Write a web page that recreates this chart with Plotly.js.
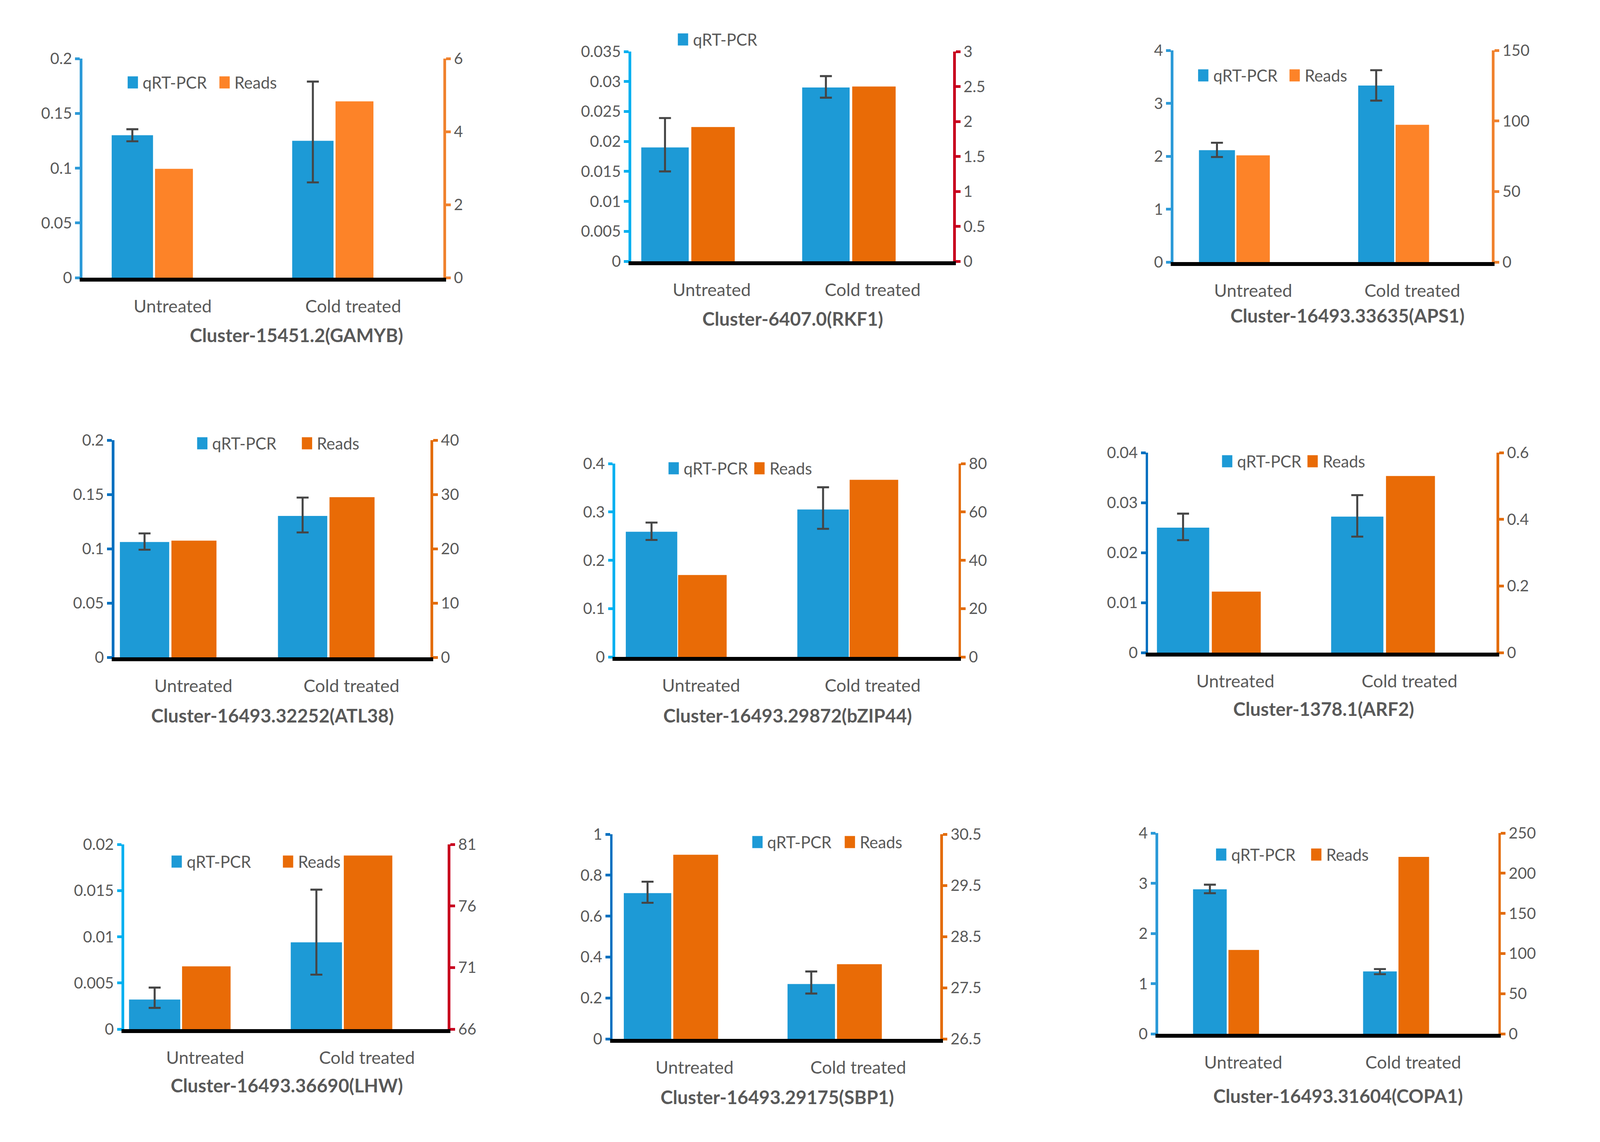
<!DOCTYPE html>
<html>
<head>
<meta charset="utf-8">
<script src="https://cdn.plot.ly/plotly-3.0.1.min.js"></script>
<style>
html, body { margin: 0; padding: 0; background: #ffffff; overflow: hidden; }
#chart { position: absolute; left: 0; top: 0; }
</style>
</head>
<body>
<div id="chart"></div>
<script>
// ---------------- DATA ----------------
const categories = ['Untreated', 'Cold treated'];
const seriesNames = ['qRT-PCR', 'Reads'];
const panelTitles = [
  'Cluster-15451.2(GAMYB)', 'Cluster-6407.0(RKF1)', 'Cluster-16493.33635(APS1)',
  'Cluster-16493.32252(ATL38)', 'Cluster-16493.29872(bZIP44)', 'Cluster-1378.1(ARF2)',
  'Cluster-16493.36690(LHW)', 'Cluster-16493.29175(SBP1)', 'Cluster-16493.31604(COPA1)'
];

// GAMYB
const qpcrGAMYB = [0.130, 0.125];
const qpcrErrUpGAMYB = [0.0055, 0.054];
const qpcrErrDownGAMYB = [0.0055, 0.038];
const readsGAMYB = [2.98, 4.83];
const leftTicksGAMYB = ['0', '0.05', '0.1', '0.15', '0.2'];
const rightTicksGAMYB = ['0', '2', '4', '6'];

// RKF1
const qpcrRKF1 = [0.0190, 0.0290];
const qpcrErrUpRKF1 = [0.0049, 0.0019];
const qpcrErrDownRKF1 = [0.0040, 0.0017];
const readsRKF1 = [1.92, 2.50];
const leftTicksRKF1 = ['0', '0.005', '0.01', '0.015', '0.02', '0.025', '0.03', '0.035'];
const rightTicksRKF1 = ['0', '0.5', '1', '1.5', '2', '2.5', '3'];

// APS1
const qpcrAPS1 = [2.115, 3.336];
const qpcrErrUpAPS1 = [0.14, 0.29];
const qpcrErrDownAPS1 = [0.13, 0.285];
const readsAPS1 = [75.6, 97.3];
const leftTicksAPS1 = ['0', '1', '2', '3', '4'];
const rightTicksAPS1 = ['0', '50', '100', '150'];

// ATL38
const qpcrATL38 = [0.1062, 0.1302];
const qpcrErrUpATL38 = [0.0079, 0.0169];
const qpcrErrDownATL38 = [0.0071, 0.0152];
const readsATL38 = [21.5, 29.5];
const leftTicksATL38 = ['0', '0.05', '0.1', '0.15', '0.2'];
const rightTicksATL38 = ['0', '10', '20', '30', '40'];

// bZIP44
const qpcrBZIP44 = [0.259, 0.305];
const qpcrErrUpBZIP44 = [0.019, 0.046];
const qpcrErrDownBZIP44 = [0.017, 0.040];
const readsBZIP44 = [33.9, 73.3];
const leftTicksBZIP44 = ['0', '0.1', '0.2', '0.3', '0.4'];
const rightTicksBZIP44 = ['0', '20', '40', '60', '80'];

// ARF2
const qpcrARF2 = [0.0250, 0.0272];
const qpcrErrUpARF2 = [0.0028, 0.0043];
const qpcrErrDownARF2 = [0.0025, 0.0040];
const readsARF2 = [0.183, 0.530];
const leftTicksARF2 = ['0', '0.01', '0.02', '0.03', '0.04'];
const rightTicksARF2 = ['0', '0.2', '0.4', '0.6'];

// LHW
const qpcrLHW = [0.0032, 0.0094];
const qpcrErrUpLHW = [0.0013, 0.0057];
const qpcrErrDownLHW = [0.0009, 0.0035];
const readsLHW = [71.1, 80.1];
const leftTicksLHW = ['0', '0.005', '0.01', '0.015', '0.02'];
const rightTicksLHW = ['66', '71', '76', '81'];

// SBP1
const qpcrSBP1 = [0.7125, 0.268];
const qpcrErrUpSBP1 = [0.0555, 0.0615];
const qpcrErrDownSBP1 = [0.0475, 0.0464];
const readsSBP1 = [30.1, 27.96];
const leftTicksSBP1 = ['0', '0.2', '0.4', '0.6', '0.8', '1'];
const rightTicksSBP1 = ['26.5', '27.5', '28.5', '29.5', '30.5'];

// COPA1
const qpcrCOPA1 = [2.88, 1.244];
const qpcrErrUpCOPA1 = [0.092, 0.046];
const qpcrErrDownCOPA1 = [0.078, 0.055];
const readsCOPA1 = [104.5, 220.3];
const leftTicksCOPA1 = ['0', '1', '2', '3', '4'];
const rightTicksCOPA1 = ['0', '50', '100', '150', '200', '250'];

// ---------------- STYLE / LAYOUT ----------------
const W = 4813, H = 2924;
const vw = window.innerWidth || W, vh = window.innerHeight || H;
const sx = vw / W, sy = vh / H;
const sf = sx;
const FONT = 'Lato, "Open Sans", sans-serif';
const TEXT = '#595959';
const BLUE = '#1D9AD6';
const ORANGE_LIGHT = '#FD8328';
const ORANGE_DARK = '#E96B06';
const CYAN = '#00B0F0', DEEPBLUE = '#0070C0', MIDBLUE = '#2C9AD8';
const RED = '#C8001E', AXORANGE = '#E36C09', AXORANGE_LIGHT = '#F0822E';

// box: [left axis x, right axis x, top y, zero y] in reference pixels
// lg: [qRT-PCR marker left, Reads marker left (or null), legend centre y]
const panels = [
  {qpcr: qpcrGAMYB, up: qpcrErrUpGAMYB, dn: qpcrErrDownGAMYB, reads: readsGAMYB, lt: leftTicksGAMYB, rt: rightTicksGAMYB,
   box: [248, 1334, 150, 711], lc: MIDBLUE, rc: AXORANGE_LIGHT, oc: ORANGE_LIGHT,
   bo: -0.338, bw: 0.229, oo: -0.098, ow: 0.21, lg: [384, 660, 211], tp: [892, 858]},
  {qpcr: qpcrRKF1, up: qpcrErrUpRKF1, dn: qpcrErrDownRKF1, reads: readsRKF1, lt: leftTicksRKF1, rt: rightTicksRKF1,
   box: [1899, 2867, 132, 669], lc: CYAN, rc: RED, oc: ORANGE_DARK,
   bo: -0.438, bw: 0.295, oo: -0.127, ow: 0.27, lg: [2039, null, 101], tp: [2385, 815]},
  {qpcr: qpcrAPS1, up: qpcrErrUpAPS1, dn: qpcrErrDownAPS1, reads: readsAPS1, lt: leftTicksAPS1, rt: rightTicksAPS1,
   box: [3530, 4488, 129, 671], lc: MIDBLUE, rc: AXORANGE_LIGHT, oc: ORANGE_LIGHT,
   bo: -0.34, bw: 0.226, oo: -0.105, ow: 0.21, lg: [3604, 3879, 193], tp: [4053, 807]},
  {qpcr: qpcrATL38, up: qpcrErrUpATL38, dn: qpcrErrDownATL38, reads: readsATL38, lt: leftTicksATL38, rt: rightTicksATL38,
   box: [344, 1295, 1127, 1683], lc: DEEPBLUE, rc: AXORANGE, oc: ORANGE_DARK,
   bo: -0.465, bw: 0.312, oo: -0.139, ow: 0.285, lg: [593, 908, 1135], tp: [820, 1831]},
  {qpcr: qpcrBZIP44, up: qpcrErrUpBZIP44, dn: qpcrErrDownBZIP44, reads: readsBZIP44, lt: leftTicksBZIP44, rt: rightTicksBZIP44,
   box: [1851, 2883, 1187, 1682], lc: CYAN, rc: AXORANGE, oc: ORANGE_DARK,
   bo: -0.439, bw: 0.30, oo: -0.134, ow: 0.283, lg: [2011, 2269, 1199], tp: [2370, 1831]},
  {qpcr: qpcrARF2, up: qpcrErrUpARF2, dn: qpcrErrDownARF2, reads: readsARF2, lt: leftTicksARF2, rt: rightTicksARF2,
   box: [3454, 4502, 1159, 1671], lc: DEEPBLUE, rc: AXORANGE, oc: ORANGE_DARK,
   bo: -0.45, bw: 0.30, oo: -0.135, ow: 0.281, lg: [3676, 3933, 1181], tp: [3982, 1815]},
  {qpcr: qpcrLHW, up: qpcrErrUpLHW, dn: qpcrErrDownLHW, reads: readsLHW, lt: leftTicksLHW, rt: rightTicksLHW,
   box: [374, 1347, 2162, 2635], lc: CYAN, rc: RED, oc: ORANGE_DARK,
   bo: -0.471, bw: 0.317, oo: -0.143, ow: 0.30, lg: [516, 851, 2206], tp: [863, 2778]},
  {qpcr: qpcrSBP1, up: qpcrErrUpSBP1, dn: qpcrErrDownSBP1, reads: readsSBP1, lt: leftTicksSBP1, rt: rightTicksSBP1,
   box: [1843, 2828, 2136, 2660], lc: DEEPBLUE, rc: AXORANGE, oc: ORANGE_DARK,
   bo: -0.432, bw: 0.29, oo: -0.13, ow: 0.274, lg: [2263, 2541, 2156], tp: [2338, 2808]},
  {qpcr: qpcrCOPA1, up: qpcrErrUpCOPA1, dn: qpcrErrDownCOPA1, reads: readsCOPA1, lt: leftTicksCOPA1, rt: rightTicksCOPA1,
   box: [3484, 4507, 2133, 2647], lc: MIDBLUE, rc: AXORANGE, oc: ORANGE_DARK,
   bo: -0.295, bw: 0.198, oo: -0.087, ow: 0.18, lg: [3658, 3944, 2188], tp: [4025, 2805]}
];

const traces = [];
const layout = {
  width: vw, height: vh,
  margin: {l: 0, r: 0, t: 0, b: 0, autoexpand: false},
  paper_bgcolor: '#ffffff', plot_bgcolor: 'rgba(0,0,0,0)',
  font: {family: FONT, color: TEXT, size: 46 * sf},
  showlegend: false,
  barmode: 'overlay',
  annotations: [],
  shapes: []
};

const px = v => v / W;
const py = v => 1 - v / H;
const SQ = 31;

panels.forEach((p, i) => {
  const n = i + 1;
  const xId = n === 1 ? 'x' : 'x' + n;
  const xName = n === 1 ? 'xaxis' : 'xaxis' + n;
  const ylId = n === 1 ? 'y' : 'y' + n;
  const ylName = n === 1 ? 'yaxis' : 'yaxis' + n;
  const yrId = 'y' + (n + 9);
  const yrName = 'yaxis' + (n + 9);
  const [x0, x1, y0, y1] = p.box;
  const ltv = p.lt.map(Number), rtv = p.rt.map(Number);

  traces.push({
    type: 'bar', name: seriesNames[0], x: categories, y: p.qpcr,
    xaxis: xId, yaxis: ylId,
    offset: p.bo, width: p.bw,
    marker: {color: BLUE, line: {width: 0}},
    error_y: {type: 'data', symmetric: false, array: p.up, arrayminus: p.dn,
              color: '#454545', thickness: 6 * sx, width: 18 * sx},
    hoverinfo: 'skip'
  });
  traces.push({
    type: 'bar', name: seriesNames[1], x: categories, y: p.reads,
    xaxis: xId, yaxis: yrId,
    offset: p.oo, width: p.ow,
    marker: {color: p.oc, line: {width: 0}},
    hoverinfo: 'skip'
  });

  layout[xName] = {
    domain: [px(x0), px(x1)], anchor: ylId, type: 'category',
    range: [-0.5, 1.5], showline: true, linecolor: '#000000', linewidth: 10 * sy,
    ticks: '', showgrid: false, zeroline: false,
    tickfont: {family: FONT, size: 53 * sf, color: TEXT}, ticklabelstandoff: 25 * sy,
    fixedrange: true
  };
  layout[ylName] = {
    domain: [py(y1), py(y0)], anchor: xId,
    range: [ltv[0], ltv[ltv.length - 1]], tickmode: 'array', tickvals: ltv, ticktext: p.lt,
    showline: true, linecolor: p.lc, linewidth: 8 * sx,
    ticks: 'outside', ticklen: 14 * sx, tickwidth: 7 * sy, tickcolor: p.lc,
    showgrid: false, zeroline: false,
    tickfont: {family: FONT, size: 47 * sf, color: TEXT}, ticklabelstandoff: 30 * sx,
    fixedrange: true
  };
  layout[yrName] = {
    overlaying: ylId, side: 'right', anchor: xId,
    range: [rtv[0], rtv[rtv.length - 1]], tickmode: 'array', tickvals: rtv, ticktext: p.rt,
    showline: true, linecolor: p.rc, linewidth: 8 * sx,
    ticks: 'outside', ticklen: 14 * sx, tickwidth: 7 * sy, tickcolor: p.rc,
    showgrid: false, zeroline: false,
    tickfont: {family: FONT, size: 47 * sf, color: TEXT}, ticklabelstandoff: 46 * sx,
    fixedrange: true
  };

  // legend: coloured squares + real text labels
  const legItems = [[p.lg[0], BLUE, seriesNames[0]]];
  if (p.lg[1] !== null) legItems.push([p.lg[1], p.oc, seriesNames[1]]);
  legItems.forEach(([lx, col, label]) => {
    layout.shapes.push({
      type: 'rect', xref: 'paper', yref: 'paper', layer: 'above',
      x0: px(lx), x1: px(lx + SQ), y0: py(p.lg[2] + SQ / 2), y1: py(p.lg[2] - SQ / 2),
      fillcolor: col, line: {width: 0}
    });
    layout.annotations.push({
      xref: 'paper', yref: 'paper', x: px(lx + 43), y: py(p.lg[2]),
      xanchor: 'left', yanchor: 'middle', showarrow: false,
      text: label, font: {family: FONT, size: 49 * sf, color: TEXT}
    });
  });

  layout.annotations.push({
    xref: 'paper', yref: 'paper', x: px(p.tp[0]), y: py(p.tp[1]),
    xanchor: 'center', yanchor: 'middle', showarrow: false,
    text: '<b>' + panelTitles[i] + '</b>',
    font: {family: FONT, size: 56 * sf, color: TEXT}
  });
});

const el = document.getElementById('chart');
el.style.width = vw + 'px';
el.style.height = vh + 'px';
Plotly.newPlot(el, traces, layout, {staticPlot: true, displayModeBar: false});
</script>
</body>
</html>
